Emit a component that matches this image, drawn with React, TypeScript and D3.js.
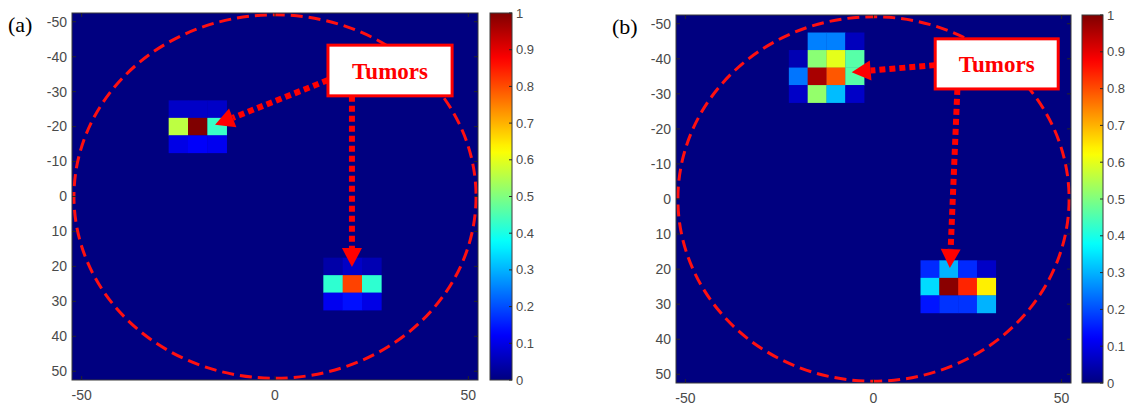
import React from "react";
import * as d3 from "d3";

// ---- data ----
const axisTicksY = [-50, -40, -30, -20, -10, 0, 10, 20, 30, 40, 50];
const axisTicksX = [-50, 0, 50];
const colorbarTicks = [0, 0.1, 0.2, 0.3, 0.4, 0.5, 0.6, 0.7, 0.8, 0.9, 1];
const panelLabels = ["(a)", "(b)"];
const annotationText = "Tumors";
const circleRadius = 52;

// Panel (a) tumor 1
const a1Cols = [-25, -20, -15];
const a1Rows = [-25, -20, -15];
const a1Vals = [
  [0.07, 0.07, 0.07],
  [0.56, 1.0, 0.43],
  [0.1, 0.12, 0.11],
];
// Panel (a) tumor 2
const a2Cols = [15, 20, 25];
const a2Rows = [20, 25, 30];
const a2Vals = [
  [0.04, 0.07, 0.05],
  [0.42, 0.81, 0.42],
  [0.11, 0.14, 0.1],
];
// Panel (b) tumor 1
const b1Cols = [-20, -15, -10, -5];
const b1Rows = [-45, -40, -35, -30];
const b1Vals = [
  [0, 0.25, 0.25, 0.06],
  [0.05, 0.51, 0.6, 0.46],
  [0.24, 0.96, 0.79, 0.46],
  [0.07, 0.52, 0.31, 0.07],
];
// Panel (b) tumor 2
const b2Cols = [15, 20, 25, 30];
const b2Rows = [20, 25, 30];
const b2Vals = [
  [0.165, 0.3, 0.165, 0.07],
  [0.34, 0.99, 0.84, 0.64],
  [0.145, 0.175, 0.175, 0.3],
];

// annotation anchor points in data coordinates
const a_box = { x0: 13.7, x1: 45.8, y0: -43.3, y1: -28.8 };
const a_arrows = [
  { from: [13.7, -33.3], to: [-15.5, -20.5] },
  { from: [19.9, -28.8], to: [19.9, 20.2] },
];
const b_box = { x0: 16.4, x1: 49.1, y0: -45.7, y1: -31.4 };
const b_arrows = [
  { from: [16.4, -38.2], to: [-5.8, -36.2] },
  { from: [22.3, -31.4], to: [20.3, 19.7] },
];

// ---- jet colormap ----
function jet(v: number): string {
  const c = (x: number) => Math.max(0, Math.min(1, x));
  const r = c(Math.min(4 * v - 1.5, -4 * v + 4.5));
  const g = c(Math.min(4 * v - 0.5, -4 * v + 3.5));
  const b = c(Math.min(4 * v + 0.5, -4 * v + 2.5));
  return d3.rgb(r * 255, g * 255, b * 255).toString();
}

type Blob = { cols: number[]; rows: number[]; vals: number[][] };
type Arrow = { from: number[]; to: number[] };
type Box = { x0: number; x1: number; y0: number; y1: number };

const TICK_COLOR = "#4a4a4a";
const SANS = "'Liberation Sans', Arial, sans-serif";
const SERIF = "'Liberation Serif', 'Times New Roman', serif";

function Panel(props: {
  left: number; right: number; top: number; bottom: number;
  cbLeft: number; cbRight: number;
  label: string; labelX: number;
  blobs: Blob[]; box: Box; arrows: Arrow[];
}) {
  const { left, right, top, bottom, cbLeft, cbRight, label, labelX, blobs, box, arrows } = props;
  const x = d3.scaleLinear().domain([-52.5, 52.5]).range([left, right]);
  const y = d3.scaleLinear().domain([-52.5, 52.5]).range([top, bottom]);
  const cb = d3.scaleLinear().domain([0, 1]).range([bottom, top]);
  const gradId = "jet-" + label.replace(/[()]/g, "");
  const stops = d3.range(0, 1.0001, 0.02);

  const rx = x(circleRadius) - x(0);
  const ry = y(circleRadius) - y(0);

  return (
    <g>
      <defs>
        <linearGradient id={gradId} x1="0" y1="1" x2="0" y2="0">
          {stops.map((s) => (
            <stop key={s} offset={s} stopColor={jet(s)} />
          ))}
        </linearGradient>
        <clipPath id={"clip-" + gradId}>
          <rect x={left} y={top} width={right - left} height={bottom - top} />
        </clipPath>
      </defs>
      {/* background (value 0) */}
      <rect x={left} y={top} width={right - left} height={bottom - top} fill={jet(0)} />
      {blobs.map((bl, bi) =>
        bl.rows.map((ry0, ri) =>
          bl.cols.map((cx0, ci) => (
            <rect
              key={`${bi}-${ri}-${ci}`}
              x={x(cx0 - 2.5)}
              y={y(ry0 - 2.5)}
              width={x(cx0 + 2.5) - x(cx0 - 2.5) + 0.3}
              height={y(ry0 + 2.5) - y(ry0 - 2.5) + 0.3}
              fill={jet(bl.vals[ri][ci])}
            />
          ))
        )
      )}
      {/* dashed circle */}
      <g clipPath={`url(#clip-${gradId})`}>
        <ellipse cx={x(0)} cy={y(0)} rx={rx} ry={ry} fill="none" stroke="#ff1010" strokeWidth={3} strokeDasharray="12 6" />
      </g>
      {/* axes frame */}
      <rect x={left} y={top} width={right - left} height={bottom - top} fill="none" stroke="#3a3a3a" strokeWidth={1} />
      {axisTicksY.map((t) => (
        <g key={"y" + t}>
          <line x1={left} x2={left + 4} y1={y(t)} y2={y(t)} stroke="#262626" />
          <line x1={right} x2={right - 4} y1={y(t)} y2={y(t)} stroke="#262626" />
          <text x={left - 5} y={y(t)} dy="0.35em" textAnchor="end" fontSize={14} fill={TICK_COLOR} fontFamily={SANS}>
            {t}
          </text>
        </g>
      ))}
      {axisTicksX.map((t) => (
        <g key={"x" + t}>
          <line x1={x(t)} x2={x(t)} y1={bottom} y2={bottom - 4} stroke="#262626" />
          <line x1={x(t)} x2={x(t)} y1={top} y2={top + 4} stroke="#262626" />
          <text x={x(t)} y={bottom + 15} dy="0.35em" textAnchor="middle" fontSize={14} fill={TICK_COLOR} fontFamily={SANS}>
            {t}
          </text>
        </g>
      ))}
      {/* arrows */}
      {arrows.map((a, i) => {
        const x0 = x(a.from[0]), y0 = y(a.from[1]);
        const x1 = x(a.to[0]), y1 = y(a.to[1]);
        const ang = Math.atan2(y1 - y0, x1 - x0);
        const headLen = 19, headW = 10;
        const bx = x1 - headLen * Math.cos(ang), by = y1 - headLen * Math.sin(ang);
        const px = -Math.sin(ang), py = Math.cos(ang);
        const head = `M${x1},${y1}L${bx + headW * px},${by + headW * py}L${bx - headW * px},${by - headW * py}Z`;
        return (
          <g key={"ar" + i}>
            <line x1={x0} y1={y0} x2={bx} y2={by} stroke="#ff0000" strokeWidth={6} strokeDasharray="6 4" />
            <path d={head} fill="#ff0000" />
          </g>
        );
      })}
      {/* annotation box */}
      <rect
        x={x(box.x0)} y={y(box.y0)} width={x(box.x1) - x(box.x0)} height={y(box.y1) - y(box.y0)}
        fill="#ffffff" stroke="#ff0000" strokeWidth={3}
      />
      <text
        x={(x(box.x0) + x(box.x1)) / 2} y={(y(box.y0) + y(box.y1)) / 2} dy="0.36em"
        textAnchor="middle" fontSize={23} fontWeight="bold" fill="#ff0000" fontFamily={SERIF}
      >
        {annotationText}
      </text>
      {/* colorbar */}
      <rect x={cbLeft} y={top} width={cbRight - cbLeft} height={bottom - top} fill={`url(#${gradId})`} stroke="#3a3a3a" strokeWidth={1} />
      {colorbarTicks.map((t) => (
        <g key={"c" + t}>
          <line x1={cbRight} x2={cbRight - 3} y1={cb(t)} y2={cb(t)} stroke="#262626" />
          <text x={cbRight + 4} y={cb(t)} dy="0.35em" textAnchor="start" fontSize={13} fill={TICK_COLOR} fontFamily={SANS}>
            {d3.format("~g")(t)}
          </text>
        </g>
      ))}
      {/* panel label */}
      <text x={labelX} y={top + 19} fontSize={22} fill="#000" fontFamily={SERIF}>
        {label}
      </text>
    </g>
  );
}

export default function App() {
  return (
    <svg width={1125} height={406} style={{ position: "absolute", left: 0, top: 0, background: "#fff" }}>
      <Panel
        left={72} right={478} top={13} bottom={380}
        cbLeft={490} cbRight={512}
        label={panelLabels[0]} labelX={8}
        blobs={[
          { cols: a1Cols, rows: a1Rows, vals: a1Vals },
          { cols: a2Cols, rows: a2Rows, vals: a2Vals },
        ]}
        box={a_box} arrows={a_arrows}
      />
      <Panel
        left={676} right={1071} top={15} bottom={383}
        cbLeft={1082} cbRight={1103}
        label={panelLabels[1]} labelX={612}
        blobs={[
          { cols: b1Cols, rows: b1Rows, vals: b1Vals },
          { cols: b2Cols, rows: b2Rows, vals: b2Vals },
        ]}
        box={b_box} arrows={b_arrows}
      />
    </svg>
  );
}
